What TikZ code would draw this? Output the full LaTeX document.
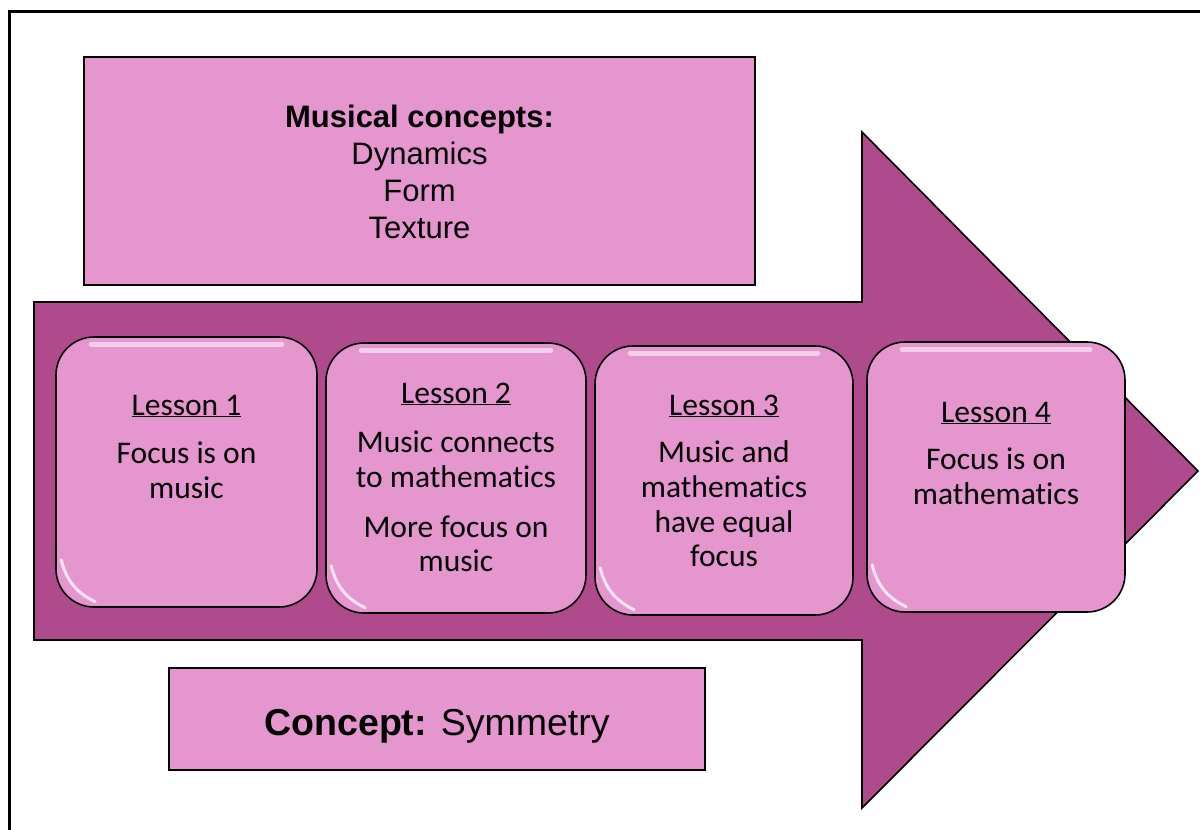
\documentclass[tikz,border=0pt]{standalone}
\usepackage{fontspec}
\setmainfont{Liberation Sans}
\newfontfamily\calib[Ligatures=NoCommon]{Carlito}
\definecolor{arrowpink}{RGB}{175,75,140}
\definecolor{boxpink}{RGB}{229,150,207}
\tikzset{
  frameline/.style={line width=3pt, black},
  bigarrow/.style={fill=arrowpink, draw=black, line width=1.6pt, line join=miter},
  flatbox/.style={fill=boxpink, draw=black, line width=2pt, inner sep=0pt},
  lessonbox/.style={fill=boxpink, draw=black, line width=1.6pt, rounded corners=38pt, inner sep=0pt},
  hl/.style={white, opacity=0.55, line width=5pt, line cap=round},
  hlc/.style={white, opacity=0.75, line width=3pt, line cap=round},
  ltxt/.style={font=\calib\fontsize{31.5}{35}\selectfont, anchor=base, inner sep=0pt},
  atxt/.style={font=\fontsize{31}{37}\selectfont, anchor=base, inner sep=0pt},
  ctxt/.style={font=\fontsize{37.5}{42}\selectfont, anchor=base, inner sep=0pt}
}
\begin{document}
\begin{tikzpicture}[x=1pt,y=-1pt]
\useasboundingbox (0,0) rectangle (1200,830);
% frame
\coordinate (fbl) at (9,830);
\coordinate (ftl) at (9,11);
\coordinate (ftr) at (1200,11);
\draw[frameline] (fbl) -- (ftl) -- (ftr);
% big arrow
\coordinate (a1) at (34,302);
\coordinate (a2) at (862,302);
\coordinate (a3) at (862,132);
\coordinate (a4) at (1198,471);
\coordinate (a5) at (862,808);
\coordinate (a6) at (862,640);
\coordinate (a7) at (34,640);
\draw[bigarrow] (a1) -- (a2) -- (a3) -- (a4) -- (a5) -- (a6) -- (a7) -- cycle;
% top box
\node[flatbox, minimum width=671pt, minimum height=228pt] (top) at (419.5,171) {};
\node[atxt] (t1) at (419.5,127) {\bfseries Musical concepts:};
\node[atxt] (t2) at (419.5,164) {Dynamics};
\node[atxt] (t3) at (419.5,201) {Form};
\node[atxt] (t4) at (419.5,238) {Texture};
% bottom box
\node[flatbox, minimum width=536pt, minimum height=102pt] (bot) at (437,719) {};
\node[ctxt] (bt) at (437,735) {\bfseries Concept:\mdseries{} Symmetry};
% lesson boxes
\node[lessonbox, minimum width=261pt, minimum height=270pt] (L1) at (186.5,472) {};
\node[lessonbox, minimum width=260pt, minimum height=270pt] (L2) at (456,478) {};
\node[lessonbox, minimum width=258pt, minimum height=269pt] (L3) at (724,480.5) {};
\node[lessonbox, minimum width=258pt, minimum height=270pt] (L4) at (996,477) {};
\foreach \b in {L1,L2,L3,L4}{
  \draw[hl] ([xshift=36pt,yshift=-8pt]\b.north west) -- ([xshift=-36pt,yshift=-8pt]\b.north east);
  \draw[hlc] ([xshift=6pt,yshift=48pt]\b.south west) to[bend right=25] ([xshift=40pt,yshift=6pt]\b.south west);
}
% lesson texts
\node[ltxt] (l1a) at (186.5,415) {\underline{Lesson 1}};
\node[ltxt] (l1b) at (186.5,463) {Focus is on};
\node[ltxt] (l1c) at (186.5,498) {music};
\node[ltxt] (l2a) at (456,403) {\underline{Lesson 2}};
\node[ltxt] (l2b) at (456,452) {Music connects};
\node[ltxt] (l2c) at (456,487) {to mathematics};
\node[ltxt] (l2d) at (456,537) {More focus on};
\node[ltxt] (l2e) at (456,571) {music};
\node[ltxt] (l3a) at (724,415) {\underline{Lesson 3}};
\node[ltxt] (l3b) at (724,462) {Music and};
\node[ltxt] (l3c) at (724,497) {mathematics};
\node[ltxt] (l3d) at (724,532) {have equal};
\node[ltxt] (l3e) at (724,566) {focus};
\node[ltxt] (l4a) at (996,422) {\underline{Lesson 4}};
\node[ltxt] (l4b) at (996,469) {Focus is on};
\node[ltxt] (l4c) at (996,504) {mathematics};
\end{tikzpicture}
\end{document}
